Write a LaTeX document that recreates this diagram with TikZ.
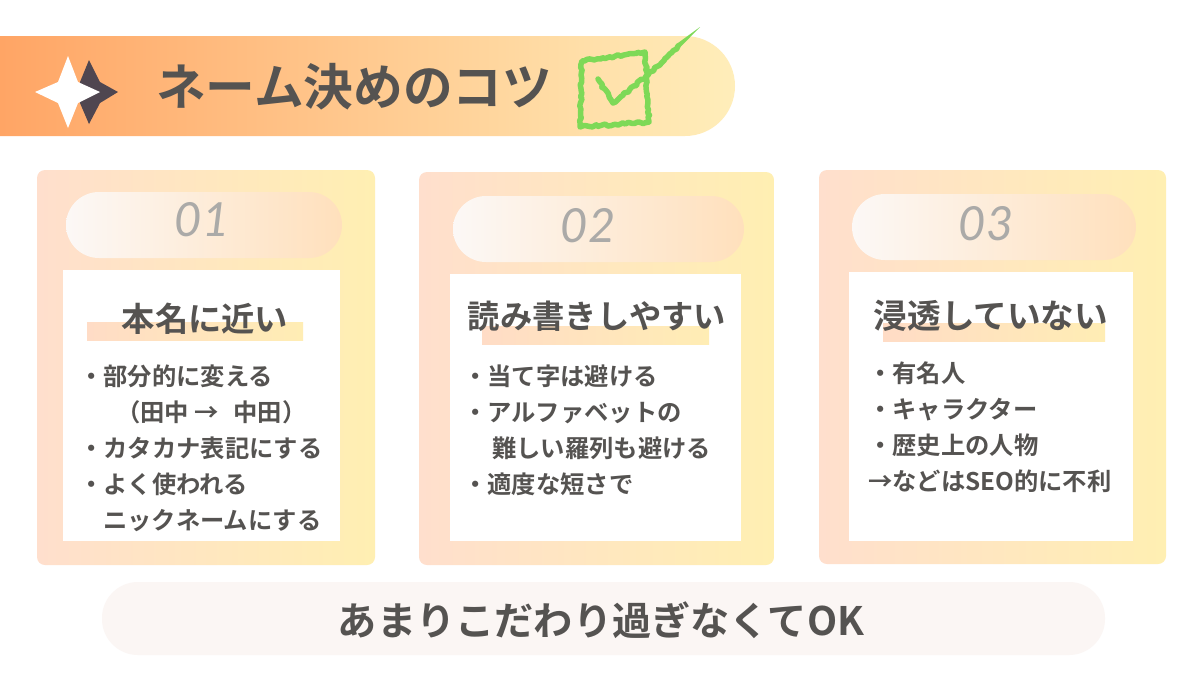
\documentclass[tikz,border=0pt]{standalone}
\usepackage{fontspec}
\usepackage{xcolor}
\usetikzlibrary{positioning}
\usetikzlibrary{decorations.pathmorphing}
\setmainfont{Noto Sans CJK JP}[BoldFont=* Bold]
\newfontfamily\numfont{Lato}
\definecolor{inkgray}{HTML}{555351}
\definecolor{numgray}{HTML}{ABAAA8}
\definecolor{bandleft}{HTML}{FFA565}
\definecolor{bandright}{HTML}{FFEEBA}
\definecolor{cardleft}{HTML}{FFDFCD}
\definecolor{cardright}{HTML}{FFEFB2}
\definecolor{pillleft}{HTML}{FCF8F6}
\definecolor{pillright}{HTML}{FFE0BC}
\definecolor{markleft}{HTML}{FFDCC6}
\definecolor{markright}{HTML}{FFEDB4}
\definecolor{okpill}{HTML}{FBF6F4}
\definecolor{checkgreen}{HTML}{7ED957}
\definecolor{stardark}{HTML}{4F4650}

\begin{document}
\begin{tikzpicture}[x=1pt,y=-1pt,
  card/.style={left color=cardleft,right color=cardright,rounded corners=8},
  pill/.style={left color=pillleft,right color=pillright,rounded corners=33},
  underbar/.style={left color=markleft,right color=markright},
  num/.style={text=numgray,font=\numfont\itshape\fontsize{47}{47}\selectfont,inner sep=0},
  head/.style={text=inkgray,font=\bfseries\fontsize{#1}{33}\selectfont,inner sep=0},
  item/.style={text=inkgray,anchor=west,font=\bfseries\fontsize{24.3}{24}\selectfont,
    inner sep=0,text height=21,text depth=3},
  check/.style={draw=checkgreen,line width=5.5,line join=round,line cap=round,
    decorate,decoration={random steps,segment length=3,amplitude=1.2}}]

  \useasboundingbox (0,0) rectangle (1200,675);
  \fill[white] (0,0) rectangle (1200,675);

  % title band
  \shade[left color=bandleft,right color=bandright]
    (0,36) -- (685,36) arc (-90:90:50) -- (0,136) -- cycle;
  \fill[stardark] (89,60) -- (100,82) -- (118,92) -- (100,103) -- (89,124)
    -- (80,103) -- (80,82) -- cycle;
  \fill[white] (68,56) -- (78,82) -- (100,92) -- (78,103) -- (68,128)
    -- (58,103) -- (35,92) -- (58,82) -- cycle;
  \node[anchor=west,text=inkgray,inner sep=0,font=\bfseries\fontsize{49.7}{50}\selectfont]
    (title) at (156,87) {ネーム決めのコツ};

  % check box
  \draw[check] (582,61) -- (645,52) -- (649,122) -- (580,127) -- cycle;
  \draw[check] (598,79) -- (613,103) -- (648,75) -- (678,46);
  \fill[checkgreen] (676.3,44.2) -- (700,27) -- (679.7,47.8) -- cycle;

  % card 1
  \shade[card] (37,170) rectangle (375,565);
  \shade[pill] (66,192) rectangle (342,258);
  \node[num] (numa) at (202,220) {01};
  \fill[white] (63,270) rectangle (340,541);
  \shade[underbar] (87,322) rectangle (303,340);
  \node[head=33.3] (heada) at (205,319) {本名に近い};
  \node[item] (aa) at (79,376) {・部分的に変える};
  \node[item] (ab) at (116,412) {（田中 →\hspace{9pt} 中田）};
  \node[item] (ac) at (79,448) {・カタカナ表記にする};
  \node[item] (ad) at (79,484) {・よく使われる};
  \node[item] (ae) at (103,520) {ニックネームにする};

  % card 2
  \shade[card] (419,172) rectangle (774,565);
  \shade[pill] (453,196) rectangle (744,262);
  \node[num] (numb) at (588,226) {02};
  \fill[white] (450,274) rectangle (741,541);
  \shade[underbar] (482,326) rectangle (709,344);
  \node[head=32.3] (headb) at (597,316) {読み書きしやすい};
  \node[item] (ba) at (463,376) {・当て字は避ける};
  \node[item] (bb) at (463,412) {・アルファベットの};
  \node[item] (bc) at (492,448) {難しい羅列も避ける};
  \node[item] (bd) at (463,484) {・適度な短さで};

  % card 3
  \shade[card] (819,170) rectangle (1166,564);
  \shade[pill] (852,194) rectangle (1136,260);
  \node[num] (numc) at (986,224) {03};
  \fill[white] (849,272) rectangle (1133,541);
  \shade[underbar] (883,323) rectangle (1105,341);
  \node[head=33.6] (headc) at (991,316) {浸透していない};
  \node[item] (ca) at (868,373) {・有名人};
  \node[item] (cb) at (868,409) {・キャラクター};
  \node[item] (cc) at (868,445) {・歴史上の人物};
  \node[item] (cd) at (868,481) {→などはSEO的に不利};

  % bottom line
  \fill[okpill,rounded corners=36] (102,582) rectangle (1105,655);
  \node[text=inkgray,inner sep=0,font=\bfseries\fontsize{39.2}{39}\selectfont]
    (oktext) at (601,620) {あまりこだわり過ぎなくてOK};
\end{tikzpicture}
\end{document}
